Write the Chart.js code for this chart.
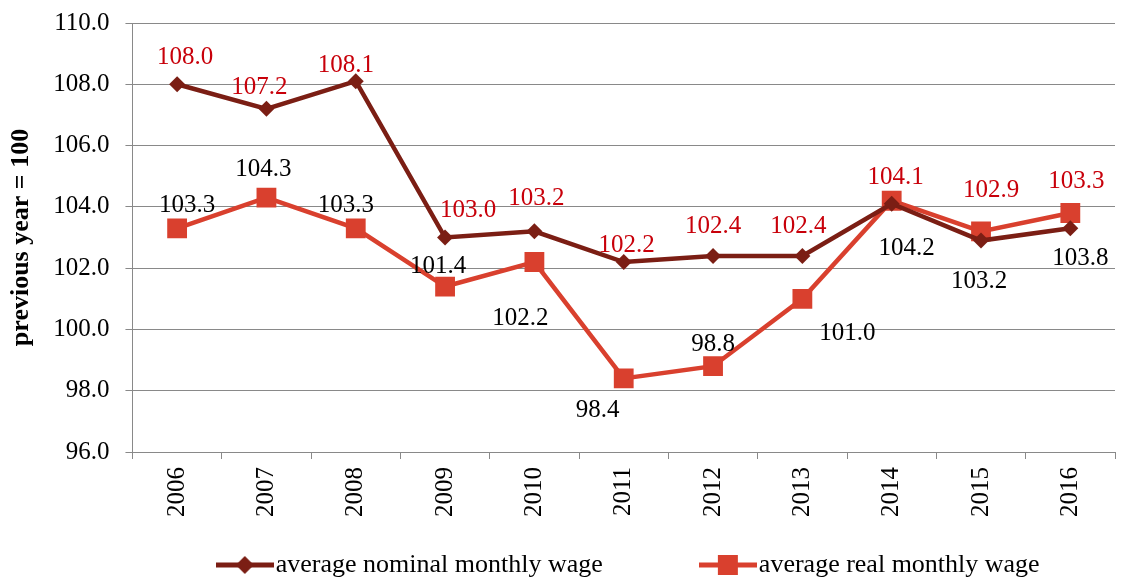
<!DOCTYPE html>
<html>
<head>
<meta charset="utf-8">
<script src="https://cdn.jsdelivr.net/npm/chart.js@4/dist/chart.umd.min.js"></script>
<style>
  html, body { margin: 0; padding: 0; background: #ffffff; }
  #wrap { width: 1130px; height: 578px; position: relative; }
</style>
</head>
<body>
<div id="wrap"><canvas id="c" width="1130" height="578"></canvas></div>
<script>
// ---- data ----
const categories = ['2006','2007','2008','2009','2010','2011','2012','2013','2014','2015','2016'];
const nominalWage = [108.0, 107.2, 108.1, 103.0, 103.2, 102.2, 102.4, 102.4, 104.1, 102.9, 103.3];
const realWage    = [103.3, 104.3, 103.3, 101.4, 102.2, 98.4, 98.8, 101.0, 104.2, 103.2, 103.8];
const nominalLabels = ['108.0','107.2','108.1','103.0','103.2','102.2','102.4','102.4','104.1','102.9','103.3'];
const realLabels    = ['103.3','104.3','103.3','101.4','102.2','98.4','98.8','101.0','104.2','103.2','103.8'];
const yTicks = [96, 98, 100, 102, 104, 106, 108, 110];
const seriesNames = ['average nominal monthly wage', 'average real monthly wage'];

// ---- label placement (offsets from each point, px) ----
const nominalLabelOffsets = [[8,-27],[-7,-21],[-10,-16],[23,-27],[2,-33],[3,-17],[0,-29],[-4,-29],[4,-26],[10,-50],[6,-47]];
const realLabelOffsets    = [[10,-23],[-3,-28],[-10,-23],[-7,-20],[-14,56],[-26,32],[0,-22],[45,35],[15,48],[-2,50],[10,45]];

const FONT = "'Liberation Serif', 'Times New Roman', serif";
const NOMINAL_COLOR = '#7B1E14';
const REAL_COLOR = '#D9402E';
const NOMINAL_LABEL_COLOR = '#C8000A';
const REAL_LABEL_COLOR = '#000000';
const GRID = '#898989';

function legendImage(color, style) {
  const cv = document.createElement('canvas');
  cv.width = 58; cv.height = 24;
  const g = cv.getContext('2d');
  g.strokeStyle = color; g.lineWidth = 5; g.lineCap = 'butt';
  g.beginPath(); g.moveTo(0, 12); g.lineTo(58, 12); g.stroke();
  g.fillStyle = color;
  if (style === 'diamond') {
    g.beginPath(); g.moveTo(29, 3); g.lineTo(38, 12); g.lineTo(29, 21); g.lineTo(20, 12); g.closePath(); g.fill();
  } else {
    g.fillRect(19, 2, 20, 20);
  }
  return cv;
}

const labelPlugin = {
  id: 'valueLabels',
  afterDatasetsDraw(chart) {
    const ctx = chart.ctx;
    const sets = [
      { idx: 0, labels: nominalLabels, offs: nominalLabelOffsets, color: NOMINAL_LABEL_COLOR },
      { idx: 1, labels: realLabels, offs: realLabelOffsets, color: REAL_LABEL_COLOR }
    ];
    ctx.save();
    ctx.font = "25px " + FONT;
    ctx.textAlign = 'center';
    ctx.textBaseline = 'middle';
    sets.forEach(s => {
      const meta = chart.getDatasetMeta(s.idx);
      meta.data.forEach((pt, i) => {
        ctx.fillStyle = s.color;
        ctx.fillText(s.labels[i], pt.x + s.offs[i][0], pt.y + s.offs[i][1]);
      });
    });
    ctx.restore();
  }
};

const legendPlugin = {
  id: 'lineLegend',
  afterDraw(chart) {
    const ctx = chart.ctx;
    const area = chart.chartArea;
    ctx.save();
    ctx.font = "26px " + FONT;
    ctx.textBaseline = 'middle';
    ctx.textAlign = 'left';
    const items = chart.data.datasets.map((ds, i) => ({
      img: legendImage(ds.borderColor, i === 0 ? 'diamond' : 'square'),
      text: ds.label
    }));
    const gap = 96, textGap = 2;
    const widths = items.map(it => it.img.width + textGap + ctx.measureText(it.text).width);
    const total = widths.reduce((a, b) => a + b, 0) + gap * (items.length - 1);
    let x = (area.left + area.right) / 2 + 4 - total / 2;
    const y = 565;
    items.forEach((it, i) => {
      ctx.drawImage(it.img, x, y - it.img.height / 2);
      ctx.fillStyle = '#000';
      ctx.fillText(it.text, x + it.img.width + textGap, y);
      x += widths[i] + gap;
    });
    ctx.restore();
  }
};

new Chart(document.getElementById('c'), {
  type: 'line',
  data: {
    labels: categories,
    datasets: [
      {
        label: seriesNames[0],
        data: nominalWage,
        borderColor: NOMINAL_COLOR,
        backgroundColor: NOMINAL_COLOR,
        borderWidth: 4.5,
        pointStyle: 'rectRot',
        pointRadius: 8,
        pointHoverRadius: 8,
        pointBorderWidth: 0,
        tension: 0
      },
      {
        label: seriesNames[1],
        data: realWage,
        borderColor: REAL_COLOR,
        backgroundColor: REAL_COLOR,
        borderWidth: 4.5,
        pointStyle: 'rect',
        pointRadius: 14,
        pointHoverRadius: 14,
        pointBorderWidth: 0,
        tension: 0
      }
    ]
  },
  options: {
    responsive: false,
    animation: false,
    devicePixelRatio: 1,
    layout: { padding: { top: 23, right: 15, left: 6, bottom: 53 } },
    scales: {
      x: {
        offset: true,
        grid: { display: true, drawOnChartArea: false, drawTicks: true, tickLength: 7, color: GRID, offset: true },
        border: { display: true, color: GRID, width: 1 },
        ticks: {
          minRotation: 90, maxRotation: 90, autoSkip: false,
          color: '#000', padding: 8,
          font: { family: FONT, size: 25 }
        }
      },
      y: {
        min: 96, max: 110,
        afterBuildTicks(axis) { axis.ticks = yTicks.map(v => ({ value: v })); },
        grid: { color: GRID, lineWidth: 1, tickLength: 7, drawTicks: true },
        border: { display: true, color: GRID, width: 1 },
        ticks: {
          color: '#000', padding: 16,
          font: { family: FONT, size: 25, lineHeight: 0.4 },
          callback: v => Number(v).toFixed(1)
        },
        title: {
          display: true, text: 'previous year = 100', color: '#000',
          font: { family: FONT, size: 26, weight: 'bold' }, padding: { top: 0, bottom: 0 }
        }
      }
    },
    plugins: {
      legend: { display: false },
      tooltip: { enabled: false }
    }
  },
  plugins: [labelPlugin, legendPlugin]
});
</script>
</body>
</html>
